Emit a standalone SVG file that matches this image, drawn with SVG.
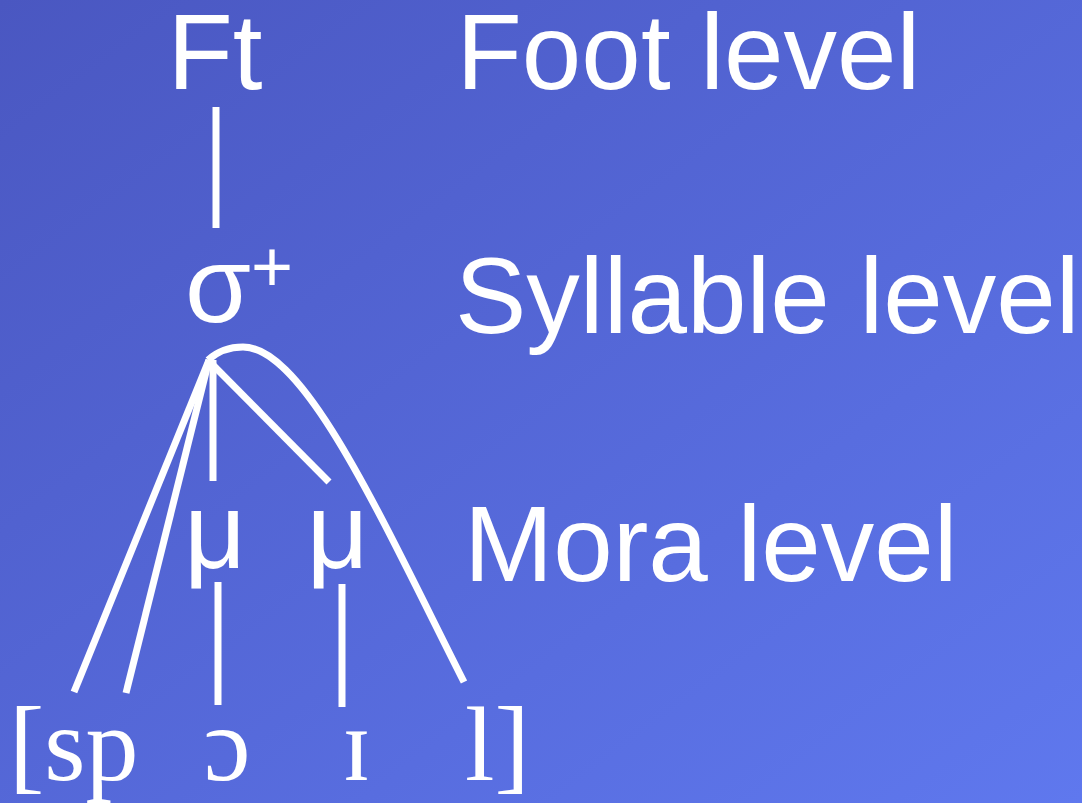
<svg xmlns="http://www.w3.org/2000/svg" width="1082" height="803" viewBox="0 0 1082 803">
  <defs>
    <linearGradient id="bg" x1="0" y1="0" x2="1" y2="1">
      <stop offset="0" stop-color="#4a57c1"/>
      <stop offset="1" stop-color="#5f78ee"/>
    </linearGradient>
    <style>
      .sans { font-family: "Liberation Sans", Arial, "DejaVu Sans", sans-serif; font-size: 107px; fill: #ffffff; }
      .serif { font-family: "Liberation Serif", "Times New Roman", "DejaVu Serif", serif; font-size: 106px; fill: #ffffff; }
      .ln { stroke: #ffffff; stroke-width: 7; fill: none; stroke-linecap: butt; }
    </style>
  </defs>
  <rect x="0" y="0" width="1082" height="803" fill="url(#bg)"/>

  <g id="labels">
    <text class="sans" x="456.5" y="89">Foot level</text>
    <text class="sans" x="455" y="333">Syllable level</text>
    <text class="sans" x="464" y="581">Mora level</text>
  </g>

  <g id="node-ft">
    <text class="sans" x="167.5" y="89">Ft</text>
  </g>
  <g id="node-sigma">
    <text class="sans" x="218" y="322" text-anchor="middle">σ</text>
    <text class="sans" x="272" y="291" text-anchor="middle" style="font-size:72px">+</text>
  </g>
  <g id="node-mu1">
    <text class="sans" x="215" y="568" text-anchor="middle">μ</text>
  </g>
  <g id="node-mu2">
    <text class="sans" x="337.5" y="568" text-anchor="middle">μ</text>
  </g>
  <g id="node-sp">
    <text class="serif" x="9" y="780">[sp</text>
  </g>
  <g id="node-open-o">
    <text class="serif" x="227" y="780" text-anchor="middle">ɔ</text>
  </g>
  <g id="node-small-i">
    <text class="serif" x="356.5" y="780" text-anchor="middle">ɪ</text>
  </g>
  <g id="node-l">
    <text class="serif" x="465" y="780">l]</text>
  </g>

  <g id="connectors">
    <line class="ln" x1="216" y1="107" x2="216" y2="228"/>
    <line class="ln" x1="209" y1="360" x2="74" y2="692"/>
    <line class="ln" x1="209" y1="360" x2="126" y2="693"/>
    <line class="ln" x1="213" y1="360" x2="213" y2="481"/>
    <line class="ln" x1="210" y1="362" x2="329" y2="482"/>
    <path class="ln" d="M208,360 C218,351 230,347 243,347 C305,347 382,520 464,682"/>
    <line class="ln" x1="218" y1="582" x2="218" y2="705"/>
    <line class="ln" x1="342" y1="584" x2="342" y2="707"/>
  </g>
</svg>
